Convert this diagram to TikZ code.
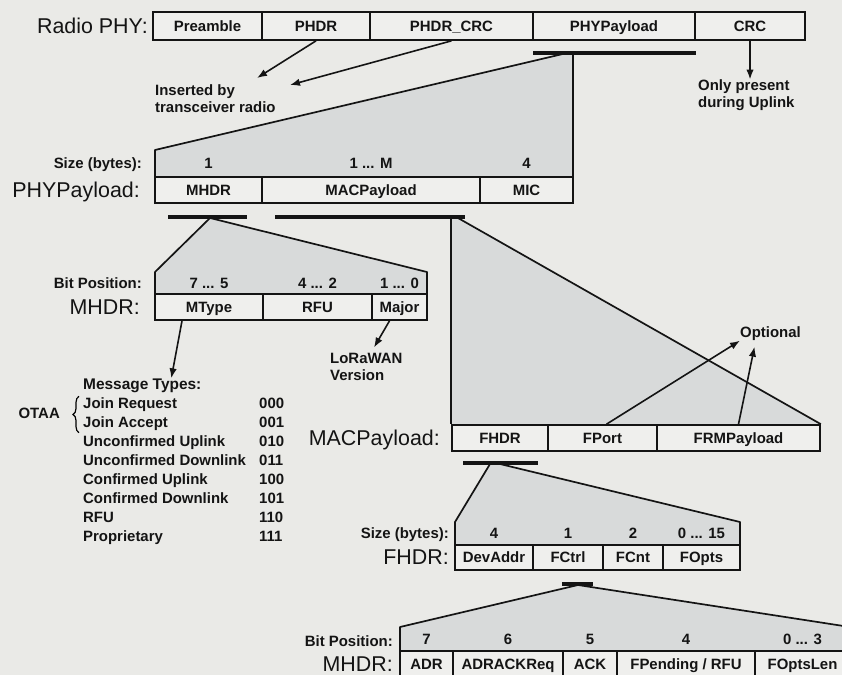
\documentclass[tikz,border=0pt]{standalone}
\usepackage{fontspec}
\setmainfont{Liberation Sans}
\usetikzlibrary{arrows.meta,calc,backgrounds,decorations.pathreplacing}
\definecolor{paper}{RGB}{234,234,231}
\definecolor{fanfill}{RGB}{216,218,218}
\definecolor{cellfill}{RGB}{239,239,237}
\definecolor{ink}{RGB}{20,20,20}
\newcommand{\cellfont}{\fontsize{15}{17}\selectfont\bfseries}
\newcommand{\namefont}{\fontsize{21.5}{24}\selectfont}

\begin{document}
\begin{tikzpicture}[
  x=1bp,y=-1bp,
  text=ink,
  arrow/.style={-{Latex[length=10pt,width=7.5pt]},line width=1.6pt,draw=ink},
  cell/.style={draw=ink,fill=cellfill,line width=1.7pt,minimum height=26bp,inner sep=0pt,
    font=\cellfont,text height=11pt,text depth=0pt},
  sizerow/.style={inner sep=0pt,outer sep=0pt},
  sizelabel/.style={font=\cellfont,inner sep=0pt,text height=11pt,text depth=0pt},
  fieldname/.style={font=\namefont,inner sep=0pt,anchor=east,text height=15pt,text depth=0pt},
  rowlabel/.style={font=\cellfont,inner sep=0pt,anchor=east,text height=11pt,text depth=0pt},
  note/.style={font=\cellfont,align=left,inner sep=0pt,anchor=north west},
  listtext/.style={font=\cellfont,inner sep=0pt,anchor=west,text height=11pt,text depth=0pt},
  bar/.style={fill=ink,inner sep=0pt,outer sep=0pt,minimum height=4.5bp},
  fan/.style={fill=fanfill},
  fanline/.style={draw=ink,line width=1.7pt,line join=round}
]
\useasboundingbox (0,0) rectangle (842,675);

% -------------------------------------------------------------------------
% Radio PHY frame.
% -------------------------------------------------------------------------
\node[fieldname] (radiolbl) at (148,26) {Radio PHY:};
\node[cell,minimum width=109bp,minimum height=28bp] (pre) at (207.5,26) {Preamble};
\node[cell,minimum width=108bp,minimum height=28bp] (phdr) at (316,26) {PHDR};
\node[cell,minimum width=163bp,minimum height=28bp] (phdrcrc) at (451.5,26) {PHDR\_CRC};
\node[cell,minimum width=162bp,minimum height=28bp] (phypl) at (614,26) {PHYPayload};
\node[cell,minimum width=110bp,minimum height=28bp] (crc) at (750,26) {CRC};
\node[bar,minimum width=163bp] (phybar) at (614.5,53) {};

\node[note] (inserted) at (155,84.5) {Inserted by\\transceiver radio};
\node[note] (uplink) at (698,79.5) {Only present\\during Uplink};
\coordinate (tipA) at (257,78);
\coordinate (tipB) at (290,85);
\draw[arrow] (phdr.south) -- (tipA);
\draw[arrow] (phdrcrc.south) -- (tipB);
\draw[arrow] (crc.south) -- (crc.south |- uplink.north);

% -------------------------------------------------------------------------
% PHYPayload.
% -------------------------------------------------------------------------
\node[sizerow,minimum width=418bp,minimum height=27bp] (physize) at (364,163.5) {};
\node[rowlabel] (physizelbl) at (142,163.5) {Size (bytes):};
\node[fieldname] (phylbl) at (140,190) {PHYPayload:};
\node[cell,minimum width=107bp] (mhdr) at (208.5,190) {MHDR};
\node[cell,minimum width=218bp] (macpl) at (371,190) {MACPayload};
\node[cell,minimum width=93bp] (mic) at (526.5,190) {MIC};
\node[sizelabel] (szmhdr) at (mhdr |- physize) {1};
\node[sizelabel] (szmacpl) at (macpl |- physize) {1 ... M};
\node[sizelabel] (szmic) at (mic |- physize) {4};
\node[bar,minimum width=79bp] (mhdrbar) at (207.5,217) {};
\node[bar,minimum width=190bp] (macbar) at (370,217) {};

% -------------------------------------------------------------------------
% MHDR and message types.
% -------------------------------------------------------------------------
\node[sizerow,minimum width=272bp,minimum height=22bp] (mhsize) at (291,283) {};
\node[rowlabel] (mhbitlbl) at (142,283) {Bit Position:};
\node[fieldname] (mhlbl) at (140,307) {MHDR:};
\node[cell,minimum width=108bp] (mtype) at (209,307) {MType};
\node[cell,minimum width=109bp] (rfu) at (317.5,307) {RFU};
\node[cell,minimum width=55bp] (major) at (399.5,307) {Major};
\node[sizelabel] (bmtype) at (mtype |- mhsize) {7 ... 5};
\node[sizelabel] (brfu) at (rfu |- mhsize) {4 ... 2};
\node[sizelabel] (bmajor) at (major |- mhsize) {1 ... 0};

\node[note] (lorawan) at (330,353.5) {LoRaWAN\\Version};
\draw[arrow] ([xshift=-10bp]major.south) -- ([xshift=44bp,yshift=6bp]lorawan.north west);

\node[listtext,font=\fontsize{15.5}{17}\selectfont\bfseries] (msgtitle) at (83,384) {Message Types:};
\foreach \msg/\code [count=\i] in {Join Request/000,Join Accept/001,Unconfirmed Uplink/010,
    Unconfirmed Downlink/011,Confirmed Uplink/100,Confirmed Downlink/101,RFU/110,Proprietary/111}
  {\node[listtext] (msg\i) at (83,{384+19*\i}) {\msg};
   \node[listtext] (code\i) at (259,{384+19*\i}) {\code};}
\draw[arrow] ([xshift=-27bp]mtype.south) -- ([xshift=29bp]msgtitle.north);
\draw[line width=1.2pt,decorate,decoration={brace,amplitude=6bp}]
  ([xshift=-4bp,yshift=-5bp]msg2.south west) -- ([xshift=-4bp,yshift=1bp]msg1.north west);
\node[listtext,anchor=east] (otaa) at (60,413) {OTAA};

% -------------------------------------------------------------------------
% MACPayload.
% -------------------------------------------------------------------------
\node[fieldname] (maclbl) at (440,438) {MACPayload:};
\node[cell,minimum width=96bp] (fhdr) at (500,438) {FHDR};
\node[cell,minimum width=109bp] (fport) at (602.5,438) {FPort};
\node[cell,minimum width=163bp] (frmpl) at (738.5,438) {FRMPayload};
\node[sizelabel] (optional) at (770.5,332) {Optional};
\draw[arrow] ([xshift=4bp]fport.north) -- ([yshift=-3bp]optional.south west);
\draw[arrow] (frmpl.north) -- ([xshift=-16bp,yshift=-9bp]optional.south);
\node[bar,minimum width=75bp] (fhdrbar) at (500.5,463) {};

% -------------------------------------------------------------------------
% FHDR.
% -------------------------------------------------------------------------
\node[sizerow,minimum width=285bp,minimum height=23bp] (fhsize) at (597.5,533.5) {};
\node[rowlabel] (fhsizelbl) at (449,533) {Size (bytes):};
\node[fieldname] (fhlbl) at (449,557.5) {FHDR:};
\node[cell,minimum width=78bp,minimum height=25bp] (devaddr) at (494,557.5) {DevAddr};
\node[cell,minimum width=70bp,minimum height=25bp] (fctrl) at (568,557.5) {FCtrl};
\node[cell,minimum width=60bp,minimum height=25bp] (fcnt) at (633,557.5) {FCnt};
\node[cell,minimum width=77bp,minimum height=25bp] (fopts) at (701.5,557.5) {FOpts};
\node[sizelabel] (szdevaddr) at (devaddr |- fhsize) {4};
\node[sizelabel] (szfctrl) at (fctrl |- fhsize) {1};
\node[sizelabel] (szfcnt) at (fcnt |- fhsize) {2};
\node[sizelabel] (szfopts) at (fopts |- fhsize) {0 ... 15};
\node[bar,minimum width=31bp] (fctrlbar) at (577.5,584) {};

% -------------------------------------------------------------------------
% FCtrl bits.
% -------------------------------------------------------------------------
\node[sizerow,minimum width=450bp,minimum height=24bp] (fcsize) at (625,639) {};
\node[rowlabel] (fcbitlbl) at (393,641) {Bit Position:};
\node[fieldname] (fclbl) at (393,664) {MHDR:};
\node[cell,minimum width=53bp] (adr) at (426.5,664) {ADR};
\node[cell,minimum width=110bp] (adrack) at (508,664) {ADRACKReq};
\node[cell,minimum width=54bp] (ack) at (590,664) {ACK};
\node[cell,minimum width=138bp] (fpend) at (686,664) {FPending / RFU};
\node[cell,minimum width=95bp] (foptslen) at (802.5,664) {FOptsLen};
\node[sizelabel] (badr) at (adr |- fcsize) {7};
\node[sizelabel] (badrack) at (adrack |- fcsize) {6};
\node[sizelabel] (back) at (ack |- fcsize) {5};
\node[sizelabel] (bfpend) at (fpend |- fcsize) {4};
\node[sizelabel] (bfoptslen) at (foptslen |- fcsize) {0 ... 3};

% Zoom fans sit under the boxes.
\begin{scope}[on background layer]
  \fill[paper] (0,0) rectangle (842,675);
  \coordinate (phyapex) at (567,53);
  \fill[fan] (phyapex) -- (physize.north west) -- (physize.south west) -- (physize.south east)
    -- (phybar.center -| physize.east) -- cycle;
  \draw[fanline] (phyapex) -- (physize.north west) -- (physize.south west);
  \draw[fanline] (phybar.center -| physize.east) -- (physize.south east);

  \coordinate (mhdrapex) at (210,218);
  \fill[fan] (mhdrapex) -- (mhsize.north west) -- (mhsize.south west) -- (mhsize.south east)
    -- (mhsize.north east) -- cycle;
  \draw[fanline] (mhsize.south west) -- (mhsize.north west) -- (mhdrapex) -- (mhsize.north east)
    -- (mhsize.south east);

  \coordinate (macapex) at (458,218);
  \fill[fan] (macbar.center -| fhdr.west) -- (fhdr.north west) -- (frmpl.north east) -- (macapex) -- cycle;
  \draw[fanline] (macbar.center -| fhdr.west) -- (fhdr.north west);
  \draw[fanline] (macapex) -- (frmpl.north east);

  \coordinate (fhdrapexl) at (490,464);
  \coordinate (fhdrapexr) at (500,464);
  \fill[fan] (fhdrapexl) -- (fhsize.north west) -- (fhsize.south west) -- (fhsize.south east)
    -- (fhsize.north east) -- (fhdrapexr) -- cycle;
  \draw[fanline] (fhsize.south west) -- (fhsize.north west) -- (fhdrapexl);
  \draw[fanline] (fhdrapexr) -- (fhsize.north east) -- (fhsize.south east);

  \coordinate (fctrlapex) at (578,585);
  \fill[fan] (fctrlapex) -- (fcsize.north west) -- (fcsize.south west) -- (fcsize.south east)
    -- (fcsize.north east) -- cycle;
  \draw[fanline] (fcsize.south west) -- (fcsize.north west) -- (fctrlapex) -- (fcsize.north east)
    -- (fcsize.south east);
\end{scope}
\end{tikzpicture}
\end{document}
